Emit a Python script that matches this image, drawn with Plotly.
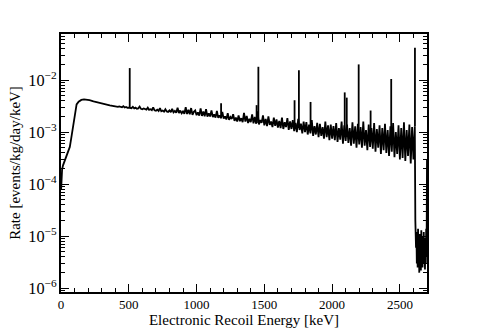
import plotly.graph_objects as go

# smooth low-energy part (keV, rate x1e-3)
low_energy = [1, 3, 8, 15, 25, 35, 45, 55, 65, 75, 85, 95, 105, 115, 130, 150,
              170, 190, 210, 240, 270, 300, 330, 360, 400]
low_rate = [0.08, 0.15, 0.19, 0.23, 0.27, 0.32, 0.37, 0.42, 0.52, 0.75, 1.1, 1.9,
            2.8, 3.4, 3.85, 4.15, 4.25, 4.2, 4.1, 3.9, 3.7, 3.55, 3.4, 3.27, 3.12]

# noisy continuum, 10 keV bins from 410 to 2610 keV (rate x1e-3)
cont_start, cont_step = 410, 10
cont_a = [3.08, 3.05, 3.12, 3.02, 3.0, 3.15, 2.97, 3.05, 2.94, 2.96,
          2.92, 2.88, 3.05, 2.85, 2.95, 2.82, 2.86, 3.1, 2.8, 2.75,
          2.85, 2.72, 2.7, 2.95, 2.68, 2.75, 2.65, 3.0, 2.62, 2.58,
          2.7, 2.55, 2.9, 2.52, 2.6, 2.48, 2.75, 2.5, 2.45, 2.62,
          2.42, 2.8, 2.4, 2.55, 2.35, 2.95, 2.33, 2.6, 2.3, 2.5,
          2.25, 3.0, 2.22, 2.7, 2.2, 2.9, 2.15, 2.45, 2.6, 2.12]
cont_b = [2.4, 2.08, 2.85, 2.05, 2.5, 2.02, 2.75, 1.98, 2.3, 2.0,
          2.6, 1.95, 2.2, 1.9, 2.55, 1.88, 2.1, 1.85, 2.45, 1.82,
          2.0, 1.75, 2.3, 1.72, 1.95, 1.8, 2.2, 1.65, 1.9, 1.6,
          2.1, 1.62, 1.85, 1.55, 2.35, 1.6, 2.05, 1.5, 1.8, 1.55,
          2.2, 1.48, 1.95, 1.45, 2.5, 1.4, 1.7, 1.5, 2.1, 1.35,
          1.8, 1.3, 2.0, 1.38, 1.6, 1.25, 1.9, 1.32, 1.75, 1.22]
cont_c = [1.65, 1.2, 1.9, 1.15, 1.55, 1.25, 1.85, 1.1, 1.6, 1.15,
          1.7, 1.05, 1.5, 1.0, 1.8, 1.1, 1.45, 0.95, 1.6, 1.0,
          1.55, 0.9, 1.4, 0.95, 1.7, 0.85, 1.3, 0.9, 1.5, 0.8,
          1.45, 0.85, 1.25, 0.75, 1.6, 0.8, 1.35, 0.7, 1.4, 0.75,
          1.3, 0.7, 1.5, 0.65, 1.2, 0.72, 1.6, 0.6, 1.35, 0.68,
          1.4, 0.62, 1.2, 0.55, 1.55, 0.6, 1.3, 0.5, 1.45, 0.58]
cont_d = [1.25, 0.5, 1.6, 0.55, 1.1, 0.45, 1.4, 0.52, 1.2, 0.48,
          1.5, 0.42, 1.15, 0.5, 1.35, 0.38, 1.2, 0.45, 1.45, 0.4,
          1.1, 0.35, 1.3, 0.42, 1.5, 0.33, 1.0, 0.38, 1.35, 0.3,
          1.2, 0.32, 1.55, 0.28, 1.1, 0.35, 1.4, 0.25, 1.25, 0.3,
          1.3]

# tail above the 2614 keV line (rate x1e-6)
tail_energy = [2614, 2616, 2619, 2622, 2625, 2628, 2631, 2634, 2637, 2640, 2643,
               2646, 2649, 2652, 2655, 2658, 2661, 2664, 2667, 2670, 2673, 2676,
               2679, 2682, 2685, 2688, 2691, 2694, 2697, 2700]
tail_rate = [20, 9, 6, 12, 3, 9, 2.5, 14, 4, 8, 2, 11, 3.5, 6, 2.2, 13, 3, 7,
             2.5, 10, 3, 12, 4, 8, 2.3, 9, 3, 14, 4, 300]

# gamma lines: energy, continuum under line, top (rate)
line_energy = [507, 1181, 1443, 1456, 1723, 1755, 1841, 2093, 2108, 2196, 2284, 2436, 2611]
line_base = [2.9e-3, 2.0e-3, 1.5e-3, 1.5e-3, 1.2e-3, 1.2e-3, 1.1e-3, 0.95e-3,
             0.95e-3, 0.9e-3, 0.85e-3, 0.75e-3, 1.3e-3]
line_top = [1.7e-2, 3.6e-3, 3.3e-3, 1.8e-2, 4.1e-3, 1.55e-2, 3.8e-3, 5.8e-3,
            4.6e-3, 2.0e-2, 2.6e-3, 1.05e-2, 4.2e-2]

cont_rate = cont_a + cont_b + cont_c + cont_d
cont_energy = [cont_start + cont_step * i for i in range(len(cont_rate))]

energy = low_energy + cont_energy + tail_energy
rate = ([r * 1e-3 for r in low_rate] + [r * 1e-3 for r in cont_rate]
        + [r * 1e-6 for r in tail_rate])

lx, ly = [], []
for e, b, t in zip(line_energy, line_base, line_top):
    lx += [e, e, None]
    ly += [b, t, None]

fig = go.Figure()
fig.add_trace(go.Scatter(x=energy, y=rate, mode="lines",
                         line=dict(color="black", width=1.8)))
fig.add_trace(go.Scatter(x=lx, y=ly, mode="lines",
                         line=dict(color="black", width=1.8)))

font = "Liberation Serif, Times New Roman, serif"
axis_common = dict(
    showline=True, linecolor="black", linewidth=1.5, mirror="allticks",
    ticks="inside", ticklen=8, tickcolor="black", showgrid=False, zeroline=False,
    automargin=False,
)

fig.update_layout(
    width=491, height=334,
    paper_bgcolor="white", plot_bgcolor="white",
    showlegend=False,
    margin=dict(l=61, r=64, t=34, b=42),
    font=dict(family=font, color="black"),
    xaxis=dict(
        range=[0, 2700], dtick=500,
        minor=dict(ticks="inside", ticklen=4, dtick=100, tickcolor="black"),
        tickfont=dict(family=font, size=13, color="black"),
        title=dict(text="Electronic Recoil Energy [keV]", standoff=2,
                   font=dict(family=font, size=15, color="black")),
        **axis_common,
    ),
    yaxis=dict(
        type="log", range=[-6.071, -1.115], dtick=1, exponentformat="power",
        minor=dict(ticks="inside", ticklen=4, dtick="D1", tickcolor="black"),
        tickfont=dict(family=font, size=13, color="black"),
        title=dict(text="Rate [events/kg/day/keV]", standoff=4,
                   font=dict(family=font, size=15, color="black")),
        **axis_common,
    ),
)

fig.write_html("out.html", config={"displayModeBar": False},
               post_script="document.body.style.margin='0';")
